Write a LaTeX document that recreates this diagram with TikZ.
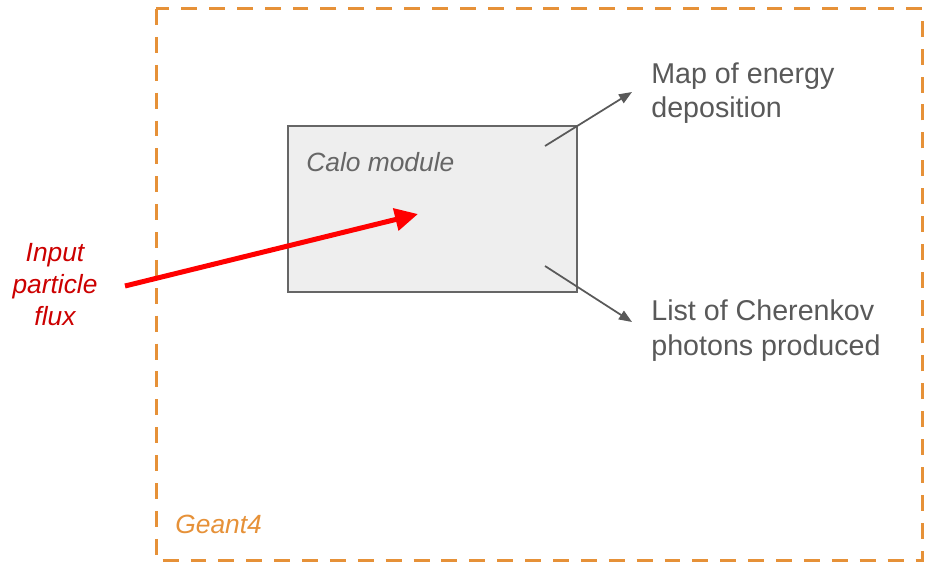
\documentclass[tikz,border=0pt]{standalone}
\usepackage{fontspec}
\setmainfont{Liberation Sans}
\usetikzlibrary{arrows.meta}
\definecolor{orangeG}{HTML}{E69138}
\definecolor{boxfill}{HTML}{EEEEEE}
\definecolor{boxline}{HTML}{666666}
\definecolor{txtgray}{HTML}{595959}
\definecolor{darkred}{HTML}{CC0000}
\tikzset{
  frame/.style={draw=orangeG, line width=0.06cm, dash pattern=on 9.07pt off 6.8pt},
  calobox/.style={draw=boxline, fill=boxfill, line width=0.04cm},
  outtext/.style={text=txtgray, anchor=base west, align=left, inner sep=0pt,
    font=\fontsize{16.3}{19.4}\selectfont},
  itext/.style={inner sep=0pt, font=\fontsize{15}{18.1}\selectfont\itshape},
  redarrow/.style={draw=red, line width=0.1cm, -{Triangle[length=0.46cm,width=0.44cm]}},
  grayarrow/.style={draw=txtgray, line width=0.035cm, -{Triangle[length=0.26cm,width=0.2cm]}}
}
\begin{document}
\begin{tikzpicture}[x=0.02cm,y=-0.02cm]
\useasboundingbox (0,0) rectangle (925,564);
\draw[frame] (156,9) rectangle (922,560);
\node[calobox, minimum width=289*0.02cm, minimum height=166*0.02cm, anchor=north west, inner sep=0pt] (calo) at (287,125) {};
\node[itext, text=boxline, anchor=base west] (calolabel) at (306,172) {Calo module};
\node[itext, text=orangeG, anchor=base west] (geant) at (175,533) {Geant4};
\node[itext, text=darkred, anchor=base, align=center] (input) at (55,325) {Input\\particle\\flux};
\node[outtext] (map) at (651,118) {Map of energy\\deposition};
\node[outtext] (list) at (651,355) {List of Cherenkov\\photons produced};
\coordinate (redstart) at (125,286);
\coordinate (redend) at (418,214);
\coordinate (upstart) at (545,146);
\coordinate (upend) at (632,92);
\coordinate (lowstart) at (545,266);
\coordinate (lowend) at (632,322);
\draw[redarrow] (redstart) -- (redend);
\draw[grayarrow] (upstart) -- (upend);
\draw[grayarrow] (lowstart) -- (lowend);
\end{tikzpicture}
\end{document}
